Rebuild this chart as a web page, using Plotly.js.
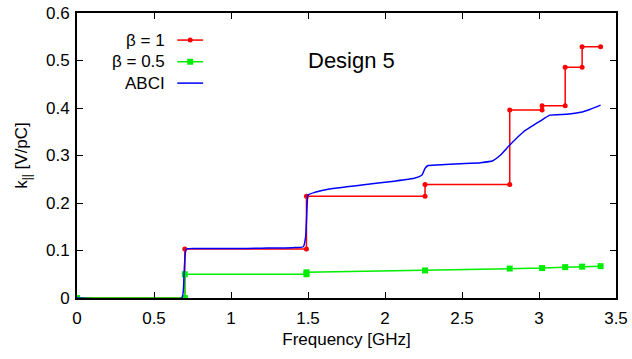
<!DOCTYPE html>
<html>
<head>
<meta charset="utf-8">
<script src="https://cdn.plot.ly/plotly-3.0.1.min.js"></script>
<style>html,body{margin:0;padding:0;background:#fff;}#chart{width:632px;height:359px;}</style>
</head>
<body>
<div id="chart"></div>
<script>
// Loss factor k|| vs frequency, step-wise sums of modes plus ABCI result
const freqBeta1 = [0, 0.70, 0.70, 1.49, 1.49, 2.26, 2.26, 2.81, 2.81, 3.02, 3.02, 3.17, 3.17, 3.28, 3.28, 3.40];
const kBeta1    = [0, 0, 0.103, 0.103, 0.214, 0.214, 0.239, 0.239, 0.396, 0.396, 0.405, 0.405, 0.486, 0.486, 0.529, 0.529];

const freqBeta05 = [0, 0.70, 0.70, 1.49, 1.49, 2.26, 2.81, 3.02, 3.17, 3.28, 3.40];
const kBeta05    = [0, 0, 0.050, 0.050, 0.054, 0.058, 0.062, 0.063, 0.065, 0.066, 0.067];

const freqABCI = [0, 0.68, 0.695, 0.71, 0.8, 1.0, 1.2, 1.4, 1.47, 1.485, 1.495, 1.50, 1.545, 1.63, 1.75, 1.85, 2.06, 2.19, 2.24, 2.26, 2.28, 2.39, 2.52, 2.62, 2.70, 2.75, 2.81, 2.90, 3.01, 3.07, 3.18, 3.27, 3.33, 3.40];
const kABCI    = [0, 0, 0.05, 0.103, 0.104, 0.104, 0.105, 0.106, 0.108, 0.13, 0.2, 0.217, 0.2225, 0.229, 0.234, 0.238, 0.246, 0.252, 0.259, 0.273, 0.279, 0.281, 0.283, 0.285, 0.289, 0.301, 0.322, 0.350, 0.373, 0.385, 0.387, 0.391, 0.397, 0.406];

const xTicks = [0, 0.5, 1, 1.5, 2, 2.5, 3, 3.5];
const yTicks = [0, 0.1, 0.2, 0.3, 0.4, 0.5, 0.6];
const seriesNames = ['β = 1', 'β = 0.5', 'ABCI'];
const seriesColors = ['#ff0000', '#00ee00', '#0000ff'];

const font = 'Liberation Sans, Arial, sans-serif';

const traces = [
  {x: freqBeta1, y: kBeta1, mode: 'lines+markers', name: seriesNames[0],
   line: {color: seriesColors[0], width: 1.5},
   marker: {symbol: 'circle', size: 5, color: seriesColors[0]}, showlegend: false},
  {x: freqBeta05, y: kBeta05, mode: 'lines+markers', name: seriesNames[1],
   line: {color: seriesColors[1], width: 1.5},
   marker: {symbol: 'square', size: 6, color: seriesColors[1]}, showlegend: false},
  {x: freqABCI, y: kABCI, mode: 'lines', name: seriesNames[2],
   line: {color: seriesColors[2], width: 1.5, shape: 'spline', smoothing: 0.4}, showlegend: false}
];

// hand-drawn key: text right-aligned, sample line to the right
const keyY = [0.905, 0.829, 0.754];
const annotations = seriesNames.map((n, i) => ({
  xref: 'paper', yref: 'paper', x: 0.167, y: keyY[i], xanchor: 'right', yanchor: 'middle',
  text: n, showarrow: false, font: {family: font, size: 17, color: '#000'}
}));
annotations.push({xref: 'paper', yref: 'paper', x: 0.510, y: 0.835, xanchor: 'center', yanchor: 'middle',
  text: 'Design 5', showarrow: false, font: {family: font, size: 22, color: '#000'}});

const shapes = [];
seriesNames.forEach((n, i) => {
  shapes.push({type: 'line', xref: 'paper', yref: 'paper', x0: 0.186, x1: 0.234, y0: keyY[i], y1: keyY[i],
    line: {color: seriesColors[i], width: 1.5}});
});
// key markers (pixel-sized around the sample centre)
shapes.push({type: 'circle', xref: 'paper', yref: 'paper', xsizemode: 'pixel', ysizemode: 'pixel',
  xanchor: 0.21, yanchor: keyY[0], x0: -2.5, x1: 2.5, y0: -2.5, y1: 2.5,
  fillcolor: seriesColors[0], line: {width: 0}});
shapes.push({type: 'rect', xref: 'paper', yref: 'paper', xsizemode: 'pixel', ysizemode: 'pixel',
  xanchor: 0.21, yanchor: keyY[1], x0: -3, x1: 3, y0: -3, y1: 3,
  fillcolor: seriesColors[1], line: {width: 0}});

const axisCommon = {
  showgrid: false, zeroline: false, showline: true, linecolor: '#000', linewidth: 2,
  mirror: 'ticks', ticks: 'inside', ticklen: 6, tickcolor: '#000', tickwidth: 1,
  tickfont: {family: font, size: 17, color: '#000'}
};

const layout = {
  width: 632, height: 359,
  margin: {l: 77, r: 16, t: 13, b: 61},
  paper_bgcolor: '#fff', plot_bgcolor: '#fff',
  xaxis: Object.assign({}, axisCommon, {
    range: [0, 3.5], tickvals: xTicks, ticktext: xTicks.map(String), ticklabelstandoff: 4,
    title: {text: 'Frequency [GHz]', font: {family: font, size: 17, color: '#000'}, standoff: 6}
  }),
  yaxis: Object.assign({}, axisCommon, {
    range: [0, 0.6], tickvals: yTicks, ticktext: yTicks.map(String), ticklabelstandoff: 2,
    title: {text: 'k<sub>||</sub> [V/pC]', font: {family: font, size: 17, color: '#000'}, standoff: 14}
  }),
  annotations: annotations,
  shapes: shapes
};

Plotly.newPlot('chart', traces, layout, {staticPlot: true});
</script>
</body>
</html>
